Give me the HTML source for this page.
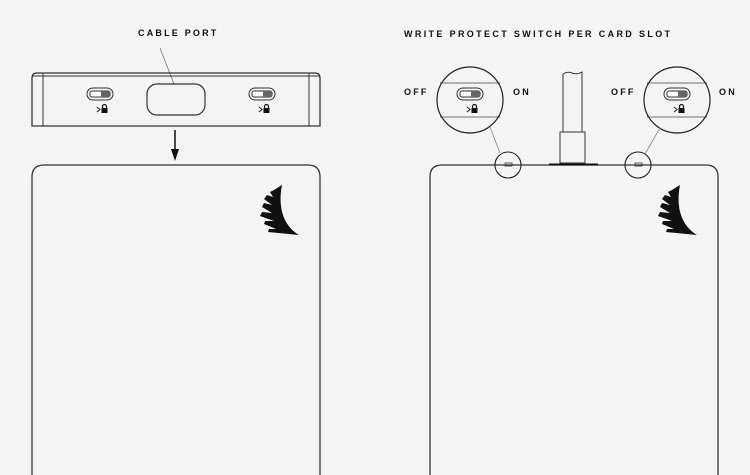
<!DOCTYPE html>
<html><head><style>
html,body{margin:0;padding:0;background:#f4f4f4;}
svg{display:block}
text{font-family:"Liberation Sans",sans-serif;font-weight:bold;font-size:9px;letter-spacing:2.2px;fill:#111}
</style></head><body>
<svg width="750" height="475" viewBox="0 0 750 475" xmlns="http://www.w3.org/2000/svg">
<defs>
<g id="sw">
  <rect x="0" y="0" width="26" height="12" rx="6" fill="none" stroke="#333" stroke-width="1"/>
  <rect x="3" y="3" width="20" height="6" rx="2" fill="#fff" stroke="#333" stroke-width="1"/>
  <rect x="14" y="3" width="9" height="6" fill="#666"/>
  <path d="M10 19 L13 21.5 L10 24" fill="none" stroke="#222" stroke-width="1"/>
  <path d="M15.5 20 v-1.5 a2 2 0 0 1 4 0 v1.5" fill="none" stroke="#111" stroke-width="1.2"/>
  <rect x="14.5" y="20" width="6" height="5" fill="#111"/>
</g>
<g id="logo">
  <path d="M28 0 C24 20 28 40 45 50 L14 47 L15 44 L22 44 L10 39 L11 36 L20 36 L6 31 L8 27 L18 28 L8 22 L10 18 L18 20 L10 14 L13 10 L19 12 L16 7 L20 5 Z" fill="#111"/>
</g>
</defs>
<text x="138" y="36">CABLE PORT</text>
<line x1="160" y1="48" x2="174" y2="84" stroke="#777" stroke-width="0.8"/>
<path d="M32 126 V78 Q32 73 37 73 H315 Q320 73 320 78 V126 Z" fill="none" stroke="#333" stroke-width="1.3"/>
<line x1="32" y1="76" x2="320" y2="76" stroke="#333" stroke-width="1"/>
<line x1="43" y1="73" x2="43" y2="126" stroke="#333" stroke-width="1"/>
<line x1="309" y1="73" x2="309" y2="126" stroke="#333" stroke-width="1"/>
<rect x="147" y="84" width="58" height="31" rx="10" fill="none" stroke="#333" stroke-width="1.2"/>
<use href="#sw" x="87" y="88"/>
<use href="#sw" x="249" y="88"/>
<line x1="175" y1="130" x2="175" y2="152" stroke="#111" stroke-width="1.5"/>
<path d="M171 149 L175 161 L179 149 Z" fill="#111"/>
<path d="M32 476 V177 Q32 165 44 165 H308 Q320 165 320 177 V476" fill="none" stroke="#333" stroke-width="1.3"/>
<use href="#logo" x="254" y="185"/>

<text x="404" y="37" style="letter-spacing:2.35px">WRITE PROTECT SWITCH PER CARD SLOT</text>
<path d="M430 476 V177 Q430 165 442 165 H706 Q718 165 718 177 V476" fill="none" stroke="#333" stroke-width="1.3"/>
<use href="#logo" x="652" y="185"/>
<path d="M563 132 V74 Q568 71 572 73 Q577 75 582 72 V132" fill="none" stroke="#333" stroke-width="1"/>
<rect x="560" y="132" width="25" height="31" fill="#f4f4f4" stroke="#333" stroke-width="1"/>
<line x1="549" y1="164.5" x2="598" y2="164.5" stroke="#111" stroke-width="2"/>
<text x="404" y="95">OFF</text><text x="513" y="95">ON</text>
<circle cx="470" cy="100" r="33" fill="none" stroke="#222" stroke-width="1.2"/>
<line x1="440" y1="83" x2="500" y2="83" stroke="#444" stroke-width="0.8"/>
<line x1="440" y1="117" x2="500" y2="117" stroke="#444" stroke-width="0.8"/>
<use href="#sw" x="457" y="88"/>
<line x1="490" y1="127" x2="500" y2="153" stroke="#888" stroke-width="0.8"/>
<circle cx="508" cy="165" r="13" fill="none" stroke="#222" stroke-width="1.1"/>
<rect x="505" y="163" width="7" height="3" fill="none" stroke="#333" stroke-width="0.8"/>
<text x="611" y="95">OFF</text><text x="719" y="95">ON</text>
<circle cx="677" cy="100" r="33" fill="none" stroke="#222" stroke-width="1.2"/>
<line x1="647" y1="83" x2="707" y2="83" stroke="#444" stroke-width="0.8"/>
<line x1="647" y1="117" x2="707" y2="117" stroke="#444" stroke-width="0.8"/>
<use href="#sw" x="664" y="88"/>
<line x1="660" y1="128" x2="645" y2="154" stroke="#888" stroke-width="0.8"/>
<circle cx="638" cy="165" r="13" fill="none" stroke="#222" stroke-width="1.1"/>
<rect x="635" y="163" width="7" height="3" fill="none" stroke="#333" stroke-width="0.8"/>
</svg>
</body></html>
